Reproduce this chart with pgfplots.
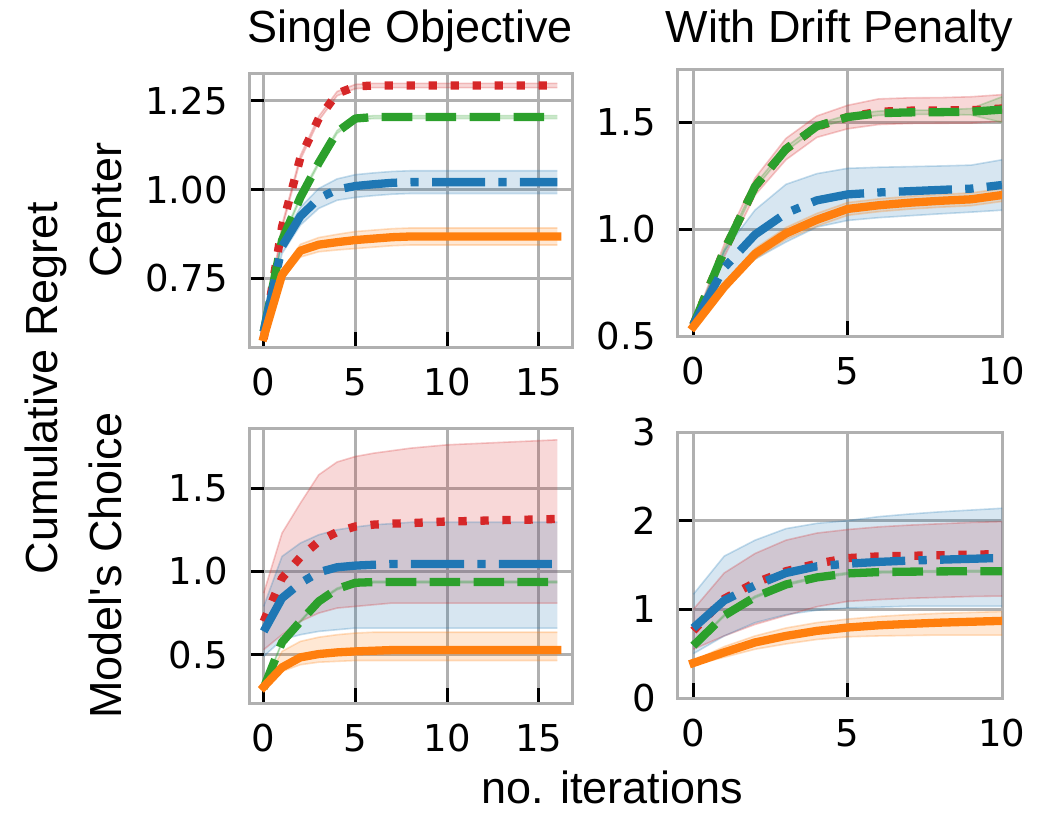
\documentclass[border=0pt]{standalone}
\usepackage{fontspec}
\setmainfont{Liberation Sans}
\newfontfamily\dejavu{DejaVu Sans}
\usepackage{pgfplots}
\usepackage{pgfplotstable}
\pgfplotsset{compat=1.18}
\usepgfplotslibrary{fillbetween}

\definecolor{tabblue}{HTML}{1F77B4}
\definecolor{taborange}{HTML}{FF7F0E}
\definecolor{tabgreen}{HTML}{2CA02C}
\definecolor{tabred}{HTML}{D62728}
\definecolor{gridgray}{HTML}{B0B0B0}

% columns: x, mean/low/high for blue (b), orange (o), green (g), red (r)
\pgfplotstableread{
x  bm    bl    bh    om    ol    oh    gm    gl    gh    rm    rl    rh
0  0.600 0.590 0.610 0.585 0.580 0.590 0.600 0.596 0.604 0.580 0.574 0.586
1  0.840 0.820 0.860 0.760 0.748 0.772 0.857 0.853 0.861 0.895 0.889 0.901
2  0.925 0.900 0.950 0.828 0.810 0.846 0.978 0.974 0.982 1.090 1.084 1.096
3  0.975 0.947 1.003 0.845 0.825 0.865 1.075 1.071 1.079 1.200 1.194 1.206
4  1.000 0.970 1.030 0.852 0.830 0.874 1.162 1.158 1.166 1.270 1.264 1.276
5  1.010 0.978 1.042 0.858 0.834 0.882 1.200 1.196 1.204 1.290 1.284 1.296
6  1.015 0.983 1.047 0.862 0.838 0.886 1.204 1.200 1.208 1.293 1.287 1.299
7  1.019 0.987 1.051 0.866 0.842 0.890 1.204 1.200 1.208 1.293 1.287 1.299
8  1.021 0.989 1.053 0.868 0.844 0.892 1.204 1.200 1.208 1.293 1.287 1.299
9  1.021 0.989 1.053 0.868 0.844 0.892 1.204 1.200 1.208 1.293 1.287 1.299
10 1.021 0.989 1.053 0.868 0.844 0.892 1.204 1.200 1.208 1.293 1.287 1.299
11 1.021 0.989 1.053 0.868 0.844 0.892 1.204 1.200 1.208 1.293 1.287 1.299
12 1.021 0.989 1.053 0.868 0.844 0.892 1.204 1.200 1.208 1.293 1.287 1.299
13 1.021 0.989 1.053 0.868 0.844 0.892 1.204 1.200 1.208 1.293 1.287 1.299
14 1.021 0.989 1.053 0.868 0.844 0.892 1.204 1.200 1.208 1.293 1.287 1.299
15 1.021 0.989 1.053 0.868 0.844 0.892 1.204 1.200 1.208 1.293 1.287 1.299
16 1.021 0.989 1.053 0.868 0.844 0.892 1.204 1.200 1.208 1.293 1.287 1.299
}\singlecenter

\pgfplotstableread{
x  bm    bl    bh    om    ol    oh    gm    gl    gh    rm    rl    rh
0  0.552 0.544 0.560 0.544 0.539 0.549 0.552 0.548 0.556 0.552 0.547 0.557
1  0.820 0.740 0.900 0.730 0.712 0.748 0.900 0.890 0.910 0.900 0.870 0.930
2  0.975 0.860 1.090 0.885 0.860 0.910 1.200 1.190 1.210 1.200 1.160 1.240
3  1.075 0.940 1.210 0.980 0.952 1.008 1.375 1.365 1.385 1.375 1.325 1.425
4  1.135 1.010 1.260 1.044 1.014 1.074 1.482 1.472 1.492 1.480 1.430 1.530
5  1.163 1.041 1.285 1.095 1.065 1.125 1.525 1.515 1.535 1.525 1.470 1.580
6  1.172 1.054 1.290 1.112 1.082 1.142 1.543 1.533 1.553 1.550 1.490 1.610
7  1.178 1.063 1.293 1.124 1.094 1.154 1.547 1.537 1.557 1.555 1.495 1.615
8  1.184 1.072 1.296 1.133 1.103 1.163 1.548 1.538 1.558 1.556 1.496 1.616
9  1.190 1.080 1.300 1.140 1.110 1.170 1.550 1.535 1.565 1.557 1.497 1.620
10 1.207 1.089 1.325 1.160 1.130 1.190 1.560 1.500 1.620 1.565 1.505 1.630
}\driftcenter

\pgfplotstableread{
x  bm    bl    bh    om    ol    oh    gm    gl    gh    rm    rl    rh
0  0.640 0.490 0.790 0.307 0.300 0.315 0.300 0.295 0.305 0.700 0.530 0.870
1  0.840 0.590 1.090 0.424 0.400 0.520 0.575 0.570 0.580 0.960 0.620 1.230
2  0.930 0.620 1.170 0.484 0.440 0.580 0.700 0.695 0.705 1.086 0.700 1.410
3  0.995 0.640 1.220 0.504 0.455 0.605 0.820 0.815 0.825 1.180 0.750 1.580
4  1.025 0.650 1.250 0.514 0.460 0.620 0.895 0.890 0.900 1.237 0.780 1.657
5  1.035 0.660 1.267 0.520 0.465 0.630 0.932 0.927 0.937 1.270 0.790 1.690
6  1.040 0.660 1.280 0.524 0.465 0.635 0.936 0.931 0.941 1.281 0.800 1.710
7  1.045 0.660 1.287 0.528 0.465 0.635 0.936 0.931 0.941 1.287 0.810 1.725
8  1.045 0.660 1.295 0.528 0.465 0.635 0.936 0.931 0.941 1.290 0.810 1.740
9  1.045 0.660 1.295 0.528 0.465 0.635 0.936 0.931 0.941 1.295 0.810 1.750
10 1.045 0.660 1.295 0.528 0.465 0.635 0.936 0.931 0.941 1.300 0.810 1.760
11 1.045 0.660 1.295 0.528 0.465 0.635 0.936 0.931 0.941 1.302 0.810 1.765
12 1.045 0.660 1.295 0.528 0.465 0.635 0.936 0.931 0.941 1.305 0.810 1.770
13 1.045 0.660 1.295 0.528 0.465 0.635 0.936 0.931 0.941 1.308 0.810 1.775
14 1.045 0.660 1.295 0.528 0.465 0.635 0.936 0.931 0.941 1.310 0.810 1.780
15 1.045 0.660 1.295 0.528 0.465 0.635 0.936 0.931 0.941 1.312 0.810 1.785
16 1.045 0.660 1.295 0.528 0.465 0.635 0.936 0.931 0.941 1.315 0.810 1.790
}\singlechoice

\pgfplotstableread{
x  bm    bl    bh    om    ol    oh    gm    gl    gh    rm    rl    rh
0  0.790 0.500 1.170 0.395 0.370 0.420 0.590 0.580 0.600 0.760 0.550 1.000
1  1.100 0.700 1.600 0.515 0.460 0.580 0.930 0.920 0.940 1.120 0.700 1.410
2  1.270 0.850 1.780 0.627 0.550 0.700 1.140 1.130 1.150 1.300 0.830 1.630
3  1.410 0.940 1.910 0.700 0.610 0.790 1.280 1.270 1.290 1.430 0.930 1.780
4  1.485 0.990 1.970 0.757 0.660 0.850 1.360 1.350 1.370 1.515 1.030 1.860
5  1.515 1.015 2.000 0.795 0.690 0.890 1.405 1.395 1.415 1.578 1.090 1.900
6  1.535 1.025 2.045 0.820 0.700 0.920 1.420 1.410 1.430 1.597 1.110 1.930
7  1.550 1.035 2.075 0.836 0.705 0.940 1.425 1.415 1.435 1.604 1.125 1.950
8  1.560 1.035 2.100 0.850 0.710 0.955 1.428 1.418 1.438 1.610 1.135 1.965
9  1.570 1.035 2.120 0.860 0.710 0.965 1.430 1.420 1.440 1.617 1.145 1.980
10 1.580 1.035 2.140 0.870 0.710 0.975 1.430 1.420 1.440 1.623 1.150 1.990
}\driftchoice

\pgfplotsset{
  panel/.style={
    scale only axis,
    axis line style={draw=gridgray, line width=1.5pt},
    grid=major,
    major grid style={draw=gridgray, line width=1.5pt},
    tick align=inside, tick pos=left,
    major tick length=7.5pt,
    tick style={black, line width=1.5pt},
    ticklabel style={font=\dejavu\fontsize{18.5}{18.5}\selectfont},
    xticklabel style={inner sep=0pt, yshift=-10.5pt},
    yticklabel style={inner sep=0pt, xshift=-10.5pt},
    /pgf/number format/assume math mode=true,
    label style={font=\fontsize{22.5}{22.5}\selectfont, inner sep=0pt},
    every axis title shift=0pt,
    title style={font=\fontsize{22.5}{22.5}\selectfont, inner sep=0pt, at={(0.5,1)}, anchor=base},
    % rotated label: yshift moves it to the left
    ylabel style={at={(axis description cs:0,0.5)}, anchor=south, yshift=63.5pt},
  },
  lred/.style={tabred, line width=4.15pt, line join=round, dash pattern=on 4.15pt off 6.85pt},
  lgreen/.style={tabgreen, line width=4.15pt, line join=round, dash pattern=on 15.35pt off 6.64pt},
  lblue/.style={tabblue, line width=4.15pt, line join=round, dash pattern=on 26.56pt off 6.64pt on 4.15pt off 6.64pt},
  lorange/.style={taborange, line width=4.15pt, line join=round, line cap=rect},
}

% shaded band between two columns, with faint edges
\newcommand{\band}[5]{%
  \addplot[#4, draw opacity=0.25, line width=0.8pt, forget plot, name path=#5#2] table[x=x, y=#2]{#1};
  \addplot[#4, draw opacity=0.25, line width=0.8pt, forget plot, name path=#5#3] table[x=x, y=#3]{#1};
  \addplot[#4, fill opacity=0.18, draw=none, forget plot] fill between[of=#5#2 and #5#3];
}

\newcommand{\panel}[2]{%
  \band{#1}{rl}{rh}{tabred}{#2}
  \band{#1}{gl}{gh}{tabgreen}{#2}
  \band{#1}{bl}{bh}{tabblue}{#2}
  \band{#1}{ol}{oh}{taborange}{#2}
  \addplot[lred] table[x=x, y=rm]{#1};
  \addplot[lgreen] table[x=x, y=gm]{#1};
  \addplot[lblue] table[x=x, y=bm]{#1};
  \addplot[lorange] table[x=x, y=om]{#1};
}

\begin{document}
\begin{tikzpicture}

% top left
\begin{axis}[panel,
  at={(124.5pt,-173.5pt)}, anchor=south west,
  width=161.5pt, height=137pt,
  xmin=-0.8, xmax=16.8, ymin=0.557, ymax=1.328,
  xtick={0,5,10,15}, ytick={0.75,1.00,1.25},
  yticklabel style={/pgf/number format/.cd, fixed, fixed zerofill, precision=2},
  title={Single Objective}, title style={yshift=15.5pt},
  ylabel={Center},
]
\panel{\singlecenter}{a}
\end{axis}

% top right
\begin{axis}[panel,
  at={(338.5pt,-168pt)}, anchor=south west,
  width=162.5pt, height=133.5pt,
  xmin=-0.53, xmax=10, ymin=0.5, ymax=1.75,
  xtick={0,5,10}, ytick={0.5,1.0,1.5},
  yticklabel style={/pgf/number format/.cd, fixed, fixed zerofill, precision=1},
  title={With Drift Penalty}, title style={yshift=13.5pt},
]
\panel{\driftcenter}{b}
\end{axis}

% bottom left
\begin{axis}[panel,
  at={(124.5pt,-351.5pt)}, anchor=south west,
  width=161.5pt, height=137.5pt,
  xmin=-0.8, xmax=16.8, ymin=0.21, ymax=1.861,
  xtick={0,5,10,15}, ytick={0.5,1.0,1.5},
  yticklabel style={/pgf/number format/.cd, fixed, fixed zerofill, precision=1},
  ylabel={Model\textquotesingle s Choice},
]
\panel{\singlechoice}{c}
\end{axis}

% bottom right
\begin{axis}[panel,
  at={(338.5pt,-349pt)}, anchor=south west,
  width=162.5pt, height=133pt,
  xmin=-0.53, xmax=10, ymin=0, ymax=3,
  xtick={0,5,10}, ytick={0,1,2,3},
]
\panel{\driftchoice}{d}
\end{axis}

\node[rotate=90, anchor=base, inner sep=0pt, font=\fontsize{22.5}{22.5}\selectfont]
  at (28.5pt,-194pt) {Cumulative Regret};
\node[anchor=base, inner sep=0pt, font=\fontsize{22.5}{22.5}\selectfont]
  at (306pt,-401.5pt) {no. iterations};

\pgfresetboundingbox
\useasboundingbox (0,0) rectangle (525.5pt,-407.5pt);
\end{tikzpicture}
\end{document}
